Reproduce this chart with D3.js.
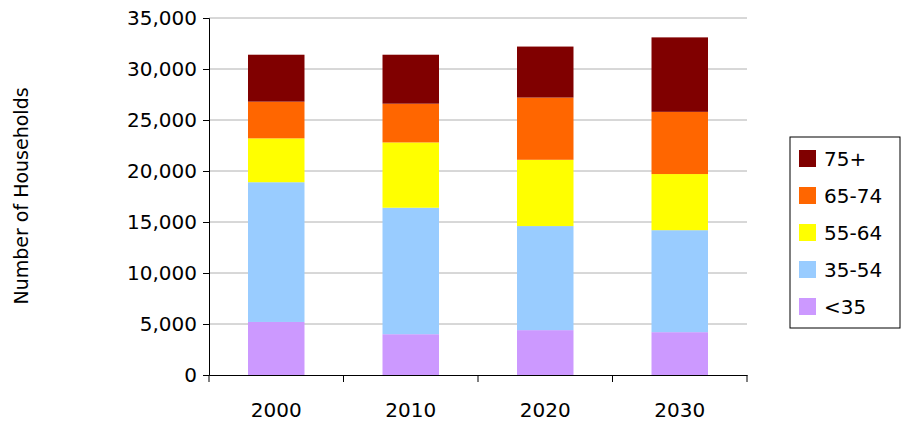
<!DOCTYPE html>
<html><head><meta charset="utf-8">
<script src="https://cdn.jsdelivr.net/npm/d3@7"></script>
<style>body{margin:0;background:#fff}text{font-family:"DejaVu Sans",sans-serif;fill:#000}</style>
</head><body><svg id="c" width="901" height="435"></svg>
<script>
const years = ["2000","2010","2020","2030"];
const seriesNames = ["<35","35-54","55-64","65-74","75+"];
const colors = ["#CC99FF","#99CCFF","#FFFF00","#FF6600","#800000"];
const lt35 = [5200,4000,4400,4200];
const s35_54 = [13700,12400,10200,10000];
const s55_64 = [4300,6400,6500,5500];
const s65_74 = [3600,3800,6100,6100];
const s75 = [4600,4800,5000,7300];
const yTicks = [0,5000,10000,15000,20000,25000,30000,35000];

const vals = [lt35,s35_54,s55_64,s65_74,s75];
const table = years.map((y,i)=>{const o={year:y};seriesNames.forEach((s,j)=>o[s]=vals[j][i]);return o;});
const stacked = d3.stack().keys(seriesNames)(table);

const svg = d3.select("#c");
const L=209,R=747,T=18,B=375;
const x = d3.scaleBand().domain(years).range([L,R]).paddingInner(0.58).paddingOuter(0.29);
const y = d3.scaleLinear().domain([0,35000]).range([B,T]);

svg.append("g").selectAll("line").data(yTicks.slice(1)).join("line")
 .attr("x1",L).attr("x2",R).attr("y1",d=>y(d)).attr("y2",d=>y(d)).attr("stroke","#b0b0b0");

svg.append("g").selectAll("g").data(stacked).join("g").attr("fill",(d,i)=>colors[i])
 .selectAll("rect").data(d=>d).join("rect")
 .attr("x",d=>x(d.data.year)).attr("width",x.bandwidth())
 .attr("y",d=>y(d[1])).attr("height",d=>y(d[0])-y(d[1]));

const ya = svg.append("g").attr("transform",`translate(${L},0)`)
 .call(d3.axisLeft(y).tickValues(yTicks).tickFormat(d3.format(",")).tickSize(6));
ya.selectAll("text").style("font-size","20px").attr("dx","-3");
ya.select(".domain").attr("stroke","#000");

const xa = svg.append("g").attr("transform",`translate(0,${B})`)
 .call(d3.axisBottom(x).tickSize(0));
xa.select(".domain").attr("stroke","#000");
xa.selectAll("text").style("font-size","20px").attr("dy","1.95em");
const bounds=[L,L+(R-L)/4,L+(R-L)/2,L+3*(R-L)/4,R];
xa.selectAll(".sep").data(bounds).join("line").attr("class","sep")
 .attr("x1",d=>d).attr("x2",d=>d).attr("y1",0).attr("y2",7).attr("stroke","#000");

svg.append("text").attr("transform","translate(28,196) rotate(-90)")
 .attr("text-anchor","middle").style("font-size","19px").text("Number of Households");

const lg = svg.append("g");
lg.append("rect").attr("x",790).attr("y",137).attr("width",110).attr("height",191)
 .attr("fill","#fff").attr("stroke","#000");
const order=[4,3,2,1,0];
order.forEach((si,k)=>{
  const yy=150+k*37;
  lg.append("rect").attr("x",799).attr("y",yy).attr("width",17).attr("height",17).attr("fill",colors[si]);
  lg.append("text").attr("x",824).attr("y",yy+16).style("font-size","20px").text(seriesNames[si]);
});
</script></body></html>
